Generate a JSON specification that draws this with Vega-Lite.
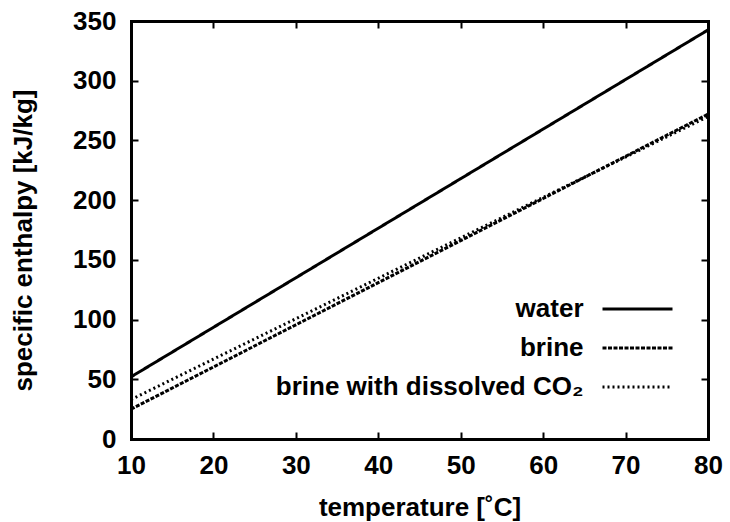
{
  "$schema": "https://vega.github.io/schema/vega-lite/v6.json",
  "width": 577,
  "height": 418,
  "autosize": {"type": "none"},
  "padding": {"left": 131, "top": 21, "right": 22, "bottom": 83},
  "background": "white",
  "config": {
    "view": {"stroke": null},
    "font": "Liberation Sans",
    "axis": {
      "grid": false,
      "domainColor": "black",
      "domainWidth": 3,
      "domainCap": "square",
      "tickColor": "black",
      "tickWidth": 2,
      "tickSize": -7,
      "labelFlush": false,
      "labelOverlap": false,
      "labelFont": "Liberation Sans",
      "labelFontWeight": "bold",
      "labelFontSize": 26,
      "labelColor": "black",
      "titleFont": "Liberation Sans",
      "titleFontWeight": "bold",
      "titleFontSize": 26,
      "titleColor": "black"
    },
    "legend": {
      "labelFont": "Liberation Sans",
      "labelFontWeight": "bold",
      "labelFontSize": 26,
      "labelColor": "black"
    }
  },
  "data": {
    "values": [
      {"T": 10, "h": 52, "series": "water"},
      {"T": 20, "h": 93.5, "series": "water"},
      {"T": 30, "h": 135, "series": "water"},
      {"T": 40, "h": 176.5, "series": "water"},
      {"T": 50, "h": 218, "series": "water"},
      {"T": 60, "h": 259.5, "series": "water"},
      {"T": 70, "h": 301, "series": "water"},
      {"T": 80, "h": 342.5, "series": "water"},
      {"T": 10, "h": 25, "series": "brine"},
      {"T": 20, "h": 60.3, "series": "brine"},
      {"T": 30, "h": 95.6, "series": "brine"},
      {"T": 40, "h": 130.9, "series": "brine"},
      {"T": 50, "h": 166.1, "series": "brine"},
      {"T": 60, "h": 201.4, "series": "brine"},
      {"T": 70, "h": 236.7, "series": "brine"},
      {"T": 80, "h": 272, "series": "brine"},
      {"T": 10, "h": 33, "series": "brine with dissolved CO₂"},
      {"T": 20, "h": 66.9, "series": "brine with dissolved CO₂"},
      {"T": 30, "h": 100.7, "series": "brine with dissolved CO₂"},
      {"T": 40, "h": 134.6, "series": "brine with dissolved CO₂"},
      {"T": 50, "h": 168.4, "series": "brine with dissolved CO₂"},
      {"T": 60, "h": 202.3, "series": "brine with dissolved CO₂"},
      {"T": 70, "h": 236.1, "series": "brine with dissolved CO₂"},
      {"T": 80, "h": 270, "series": "brine with dissolved CO₂"}
    ]
  },
  "resolve": {"axis": {"x": "independent", "y": "independent"}},
  "layer": [
    {
      "mark": {"type": "line", "color": "black", "strokeWidth": 3, "clip": true},
      "encoding": {
        "x": {
          "field": "T", "type": "quantitative",
          "scale": {"domain": [10, 80], "nice": false, "zero": false},
          "axis": {"orient": "bottom", "values": [10, 20, 30, 40, 50, 60, 70, 80], "title": "temperature [˚C]", "labelPadding": 20, "titlePadding": 16}
        },
        "y": {
          "field": "h", "type": "quantitative",
          "scale": {"domain": [0, 350], "nice": false},
          "axis": {"orient": "left", "values": [0, 50, 100, 150, 200, 250, 300, 350], "title": "specific enthalpy [kJ/kg]", "labelPadding": 22, "titlePadding": 36, "titleY": 219}
        },
        "strokeDash": {
          "field": "series", "type": "nominal",
          "scale": {"domain": ["water", "brine", "brine with dissolved CO₂"], "range": [[1, 0], [4, 1.5], [2, 3]]},
          "legend": {
            "orient": "none",
            "legendX": 471,
            "legendY": 269,
            "title": null,
            "padding": 0,
            "symbolType": "M-2,0H2",
            "symbolSize": 1225,
            "symbolStrokeWidth": 3,
            "symbolStrokeColor": "black",
            "symbolOffset": 16.5,
            "labelAlign": "right",
            "labelOffset": -73,
            "labelLimit": 400,
            "rowPadding": 7
          }
        }
      }
    },
    {
      "mark": {"type": "line", "opacity": 0},
      "encoding": {
        "x": {
          "field": "T", "type": "quantitative",
          "axis": {"orient": "top", "values": [10, 20, 30, 40, 50, 60, 70, 80], "labels": false, "title": null}
        },
        "y": {
          "field": "h", "type": "quantitative",
          "axis": {"orient": "right", "values": [0, 50, 100, 150, 200, 250, 300, 350], "labels": false, "title": null}
        },
        "detail": {"field": "series"}
      }
    }
  ]
}
